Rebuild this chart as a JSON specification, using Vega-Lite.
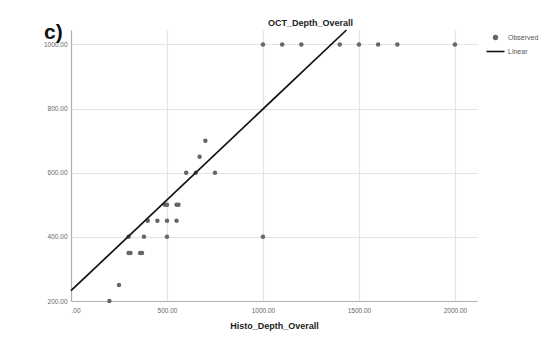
{
  "$schema": "https://vega.github.io/schema/vega-lite/v6.json",
  "autosize": {"type": "none"},
  "width": 406,
  "height": 271,
  "padding": {"left": 71, "top": 30, "right": 83, "bottom": 40},
  "background": "white",
  "title": {
    "text": "c)",
    "anchor": "start",
    "frame": "group",
    "orient": "top",
    "offset": 0,
    "dx": -27,
    "dy": 42,
    "baseline": "alphabetic",
    "fontSize": 21,
    "fontWeight": "bold",
    "font": "Liberation Sans",
    "color": "#111111"
  },
  "datasets": {
    "observed": [
      {"histo": 200, "oct": 200, "series": "Observed"},
      {"histo": 250, "oct": 250, "series": "Observed"},
      {"histo": 300, "oct": 350, "series": "Observed"},
      {"histo": 310, "oct": 350, "series": "Observed"},
      {"histo": 360, "oct": 350, "series": "Observed"},
      {"histo": 370, "oct": 350, "series": "Observed"},
      {"histo": 300, "oct": 400, "series": "Observed"},
      {"histo": 380, "oct": 400, "series": "Observed"},
      {"histo": 500, "oct": 400, "series": "Observed"},
      {"histo": 400, "oct": 450, "series": "Observed"},
      {"histo": 450, "oct": 450, "series": "Observed"},
      {"histo": 500, "oct": 450, "series": "Observed"},
      {"histo": 550, "oct": 450, "series": "Observed"},
      {"histo": 490, "oct": 500, "series": "Observed"},
      {"histo": 500, "oct": 500, "series": "Observed"},
      {"histo": 550, "oct": 500, "series": "Observed"},
      {"histo": 560, "oct": 500, "series": "Observed"},
      {"histo": 600, "oct": 600, "series": "Observed"},
      {"histo": 650, "oct": 600, "series": "Observed"},
      {"histo": 750, "oct": 600, "series": "Observed"},
      {"histo": 670, "oct": 650, "series": "Observed"},
      {"histo": 700, "oct": 700, "series": "Observed"},
      {"histo": 1000, "oct": 400, "series": "Observed"},
      {"histo": 1000, "oct": 1000, "series": "Observed"},
      {"histo": 1100, "oct": 1000, "series": "Observed"},
      {"histo": 1200, "oct": 1000, "series": "Observed"},
      {"histo": 1400, "oct": 1000, "series": "Observed"},
      {"histo": 1500, "oct": 1000, "series": "Observed"},
      {"histo": 1600, "oct": 1000, "series": "Observed"},
      {"histo": 1700, "oct": 1000, "series": "Observed"},
      {"histo": 2000, "oct": 1000, "series": "Observed"}
    ],
    "fit": [
      {"histo": 0, "oct": 232, "series": "Linear"},
      {"histo": 1435, "oct": 1045, "series": "Linear"}
    ]
  },
  "encoding": {
    "x": {
      "field": "histo",
      "type": "quantitative",
      "scale": {"domain": [0, 2115], "nice": false, "zero": false},
      "axis": {
        "title": "Histo_Depth_Overall",
        "values": [0, 500, 1000, 1500, 2000],
        "labelExpr": "datum.value == 0 ? '.00' : format(datum.value, '.2f')",
        "ticks": false,
        "labelPadding": 6,
        "titlePadding": 8,
        "grid": true
      }
    },
    "y": {
      "field": "oct",
      "type": "quantitative",
      "scale": {"domain": [200, 1045], "nice": false, "zero": false},
      "axis": {
        "title": "OCT_Depth_Overall",
        "values": [200, 400, 600, 800, 1000],
        "format": ".2f",
        "ticks": false,
        "labelPadding": 4,
        "grid": true,
        "titleAngle": 0,
        "titleX": 239,
        "titleY": -8,
        "titleAlign": "center",
        "titleBaseline": "middle"
      }
    },
    "color": {
      "field": "series",
      "type": "nominal",
      "scale": {"domain": ["Observed", "Linear"], "range": ["#666666", "#111111"]},
      "legend": {
        "title": null,
        "orient": "none",
        "legendX": 421,
        "legendY": 4,
        "padding": 0,
        "symbolSize": 16,
        "labelOffset": 9,
        "rowPadding": 4,
        "labelFontSize": 7,
        "labelColor": "#555555",
        "labelFont": "Liberation Sans",
        "encode": {
          "symbols": {
            "update": {
              "shape": {"signal": "datum.value === 'Linear' ? 'stroke' : 'circle'"},
              "size": {"signal": "datum.value === 'Linear' ? 324 : 14"},
              "fill": {"signal": "datum.value === 'Linear' ? 'transparent' : '#666666'"},
              "stroke": {"signal": "datum.value === 'Linear' ? '#111111' : 'transparent'"},
              "strokeWidth": {"value": 1.6},
              "opacity": {"value": 1}
            }
          }
        }
      }
    }
  },
  "layer": [
    {
      "data": {"name": "observed"},
      "mark": {"type": "point", "filled": true, "opacity": 1, "size": 20}
    },
    {
      "data": {"name": "fit"},
      "mark": {"type": "line", "strokeWidth": 1.7}
    }
  ],
  "config": {
    "font": "Liberation Sans",
    "view": {"stroke": null},
    "axis": {
      "labelFontSize": 6.5,
      "labelColor": "#666666",
      "labelFont": "Liberation Sans",
      "titleFontSize": 9,
      "titleFontWeight": "bold",
      "titleColor": "#222222",
      "titleFont": "Liberation Sans",
      "domainColor": "#b0b0b0",
      "domainWidth": 1.2,
      "gridColor": "#e2e2e2",
      "gridWidth": 1.2
    }
  }
}
